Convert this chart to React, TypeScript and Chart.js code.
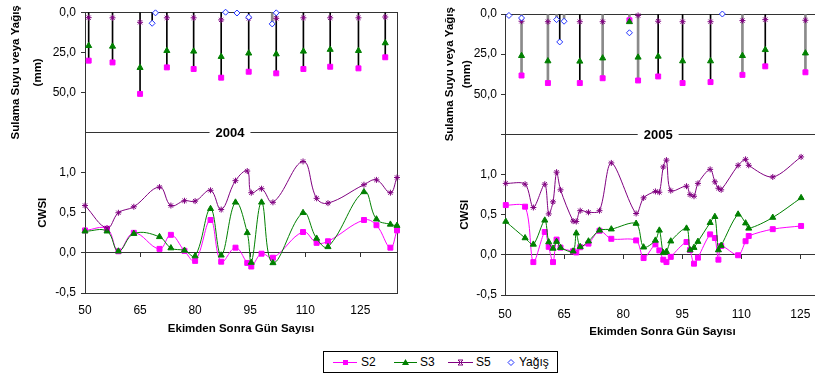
import React, { useEffect, useRef } from "react";
import { Chart, registerables } from "chart.js";

Chart.register(...registerables);

// ---------- series names ----------
const seriesNames = ["S2", "S3", "S5", "Yağış"];

// ---------- 2004 ----------
const irrDays2004 = [51, 57.5, 65, 72.3, 79.6, 87.1, 94.6, 102.1, 109.5, 116.8, 124.5, 131.8];
const irrS2_2004 = [30.2, 31.3, 50.9, 34.4, 35.4, 40.8, 37.1, 38.1, 35.4, 34.0, 35.0, 28.1];
const irrS3_2004 = [20.9, 21.3, 34.6, 24.0, 24.4, 27.7, 25.6, 26.1, 24.4, 23.3, 24.0, 19.2];
const irrS5_2004 = [3.4, 3.5, 6.3, 3.5, 3.5, 4.8, 3.8, 3.8, 3.5, 3.5, 3.5, 3.0];
const rainDays2004 = [68.3, 69.2, 88.3, 91.4, 94.6, 101.0, 102.1];
const rainMm2004 = [6.9, 0.4, 0.0, 0.5, 3.1, 7.3, 0.4];
const grayIrr2004: number[] = [];
const rainLineBlack2004 = [0];
const rainLineGray2004 = [5];

const cwsiDays2004 = [50, 56, 59.1, 63.3, 70.3, 73.4, 77.1, 80, 84.2, 87.1, 91, 94.2, 95.3, 98.1, 101.2, 109.4, 113.1, 116.2, 126, 129.4, 133.2, 135];
const cwsiS2_2004 = [0.28, 0.30, 0.02, 0.25, 0.05, 0.225, 0.025, -0.10, 0.41, -0.11, 0.065, -0.125, -0.17, -0.01, -0.06, 0.26, 0.125, 0.145, 0.41, 0.345, 0.065, 0.28];
const cwsiS3_2004 = [0.27, 0.27, 0.02, 0.24, 0.20, 0.06, 0.03, -0.04, 0.55, -0.03, 0.63, 0.25, -0.12, 0.63, -0.125, 0.50, 0.18, 0.075, 0.76, 0.42, 0.355, 0.34];
const cwsiS5_2004 = [0.59, 0.31, 0.50, 0.575, 0.82, 0.59, 0.65, 0.645, 0.78, 0.54, 0.90, 1.02, 0.75, 0.80, 0.63, 1.14, 0.68, 0.62, 0.85, 0.91, 0.75, 0.94];

// ---------- 2005 ----------
const irrDays2005 = [54.2, 60.9, 69.0, 74.8, 81.6, 83.8, 88.9, 95.1, 102.2, 110.3, 116.1, 126.3];
const irrS2_2005 = [38.3, 43.0, 43.0, 40.0, 3.9, 41.4, 38.9, 43.0, 42.4, 37.9, 32.6, 36.3];
const irrS3_2005 = [26.0, 29.3, 29.5, 27.5, 4.9, 27.0, 26.4, 29.3, 29.3, 26.0, 22.3, 24.4];
const irrS5_2005: (number | null)[] = [4.5, 4.8, 4.8, 4.8, null, 0.9, 4.5, 4.8, 4.8, 4.1, 3.5, 3.9];
const rainDays2005 = [51.0, 54.2, 63.1, 63.9, 65.0, 81.6, 105.2];
const rainMm2005 = [0.9, 2.5, 3.5, 17.4, 4.5, 11.7, 0.0];
const grayIrr2005 = [0, 1, 3, 4, 5, 9, 11];
const rainLineBlack2005 = [3];
const rainLineGray2005 = [2, 4];

const cwsiDays2005 = [50.2, 55.1, 57.2, 60.1, 61.1, 62.2, 63.1, 64.1, 67.3, 68.1, 69.1, 71.2, 74, 77, 83.3, 85.2, 88.2, 89.2, 90.2, 91, 92.1, 96.1, 97, 98, 99, 102.1, 103.3, 104.2, 104.9, 109.2, 111.1, 111.9, 118, 125.2];
const cwsiS2_2005 = [0.62, 0.60, -0.09, 0.285, 0.10, -0.09, 0.19, 0.09, 0.045, 0.03, 0.095, 0.14, 0.30, 0.20, 0.18, -0.04, 0.13, 0.055, -0.06, -0.09, -0.025, 0.16, 0.06, -0.11, -0.035, 0.255, 0.21, -0.06, 0.11, -0.005, 0.17, 0.235, 0.32, 0.36];
const cwsiS3_2005 = [0.415, 0.21, 0.13, 0.43, 0.16, 0.08, 0.165, 0.09, 0.045, 0.27, 0.10, 0.17, 0.305, 0.32, 0.39, 0.095, 0.18, 0.305, 0.025, 0.04, 0.17, 0.33, 0.06, 0.09, 0.165, 0.40, 0.475, 0.06, 0.115, 0.505, 0.395, 0.33, 0.465, 0.71];
const cwsiS5_2005 = [0.89, 0.88, 0.59, 0.88, 0.51, 0.66, 1.03, 0.81, 0.42, 0.415, 0.55, 0.53, 0.55, 1.145, 0.515, 0.71, 0.79, 0.78, 1.095, 1.18, 0.80, 0.855, 0.75, 0.73, 0.89, 1.065, 0.91, 0.83, 0.81, 1.115, 1.19, 1.115, 0.97, 1.22];

// ---------- axis tick values ----------
const xTickValues = [50, 65, 80, 95, 110, 125];
const topTickValues = [0, 25, 50, 75];
const botTickValues = [-0.5, 0, 0.5, 1.0, 1.5];

const FAM = '"Liberation Sans", Arial, Helvetica, sans-serif';
const DARK = "#333333";
const NONE = "rgba(0,0,0,0)";
const C_S2 = "#ff00ff";
const C_S3 = "#008000";
const C_S5 = "#800080";
const C_RAIN = "#2233ff";

type Panel = {
  year: string;
  irrDays: number[]; irrS2: number[]; irrS3: number[]; irrS5: (number | null)[];
  rainDays: number[]; rainMm: number[];
  grayIrr: number[]; rainBlack: number[]; rainGray: number[];
  cwsiDays: number[]; cwsiS2: number[]; cwsiS3: number[]; cwsiS5: number[];
  xMax: number; tension: number;
  yAxisW: number; xAxisH: number; padTop: number; padRight: number;
  yTickPad: number; xTickPad: number; xTitlePad: number;
  topTitleLH: string; topTitlePad: number; botTitlePad: number;
  rightBorder: boolean; yearAt: number; sepTick: boolean;
};

const P2004: Panel = {
  year: "2004",
  irrDays: irrDays2004, irrS2: irrS2_2004, irrS3: irrS3_2004, irrS5: irrS5_2004,
  rainDays: rainDays2004, rainMm: rainMm2004,
  grayIrr: grayIrr2004, rainBlack: rainLineBlack2004, rainGray: rainLineGray2004,
  cwsiDays: cwsiDays2004, cwsiS2: cwsiS2_2004, cwsiS3: cwsiS3_2004, cwsiS5: cwsiS5_2004,
  xMax: 135, tension: 0.4,
  yAxisW: 85, xAxisH: 47, padTop: 12, padRight: 13,
  yTickPad: 5, xTickPad: 10, xTitlePad: 4,
  topTitleLH: "22px", topTitlePad: 5, botTitlePad: 36,
  rightBorder: true, yearAt: 89.5, sepTick: false,
};

const P2005: Panel = {
  year: "2005",
  irrDays: irrDays2005, irrS2: irrS2_2005, irrS3: irrS3_2005, irrS5: irrS5_2005,
  rainDays: rainDays2005, rainMm: rainMm2005,
  grayIrr: grayIrr2005, rainBlack: rainLineBlack2005, rainGray: rainLineGray2005,
  cwsiDays: cwsiDays2005, cwsiS2: cwsiS2_2005, cwsiS3: cwsiS3_2005, cwsiS5: cwsiS5_2005,
  xMax: 130, tension: 0.3,
  yAxisW: 95, xAxisH: 45, padTop: 14, padRight: 3.5,
  yTickPad: 4, xTickPad: 12, xTitlePad: 1,
  topTitleLH: "17px", topTitlePad: 31, botTitlePad: 48,
  rightBorder: false, yearAt: 88.9, sepTick: true,
};

const fmt = (v: number) => (Math.abs(v) < 1e-9 ? 0 : v).toFixed(1).replace(".", ",");
const near = (a: number, b: number) => Math.abs(a - b) < 1e-6;

function pts(xs: number[], ys: (number | null)[]) {
  const out: { x: number; y: number }[] = [];
  xs.forEach((x, i) => {
    const y = ys[i];
    if (y !== null && y !== undefined) out.push({ x, y });
  });
  return out;
}

function buildConfig(p: Panel): any {
  const black: any[] = [];
  const gray: any[] = [];
  p.irrDays.forEach((d, i) => {
    const depth = Math.max(p.irrS2[i], p.irrS3[i]);
    (p.grayIrr.includes(i) ? gray : black).push({ x: d, y: [0, depth] });
  });
  p.rainBlack.forEach((i) => black.push({ x: p.rainDays[i], y: [0, p.rainMm[i]] }));
  p.rainGray.forEach((i) => gray.push({ x: p.rainDays[i], y: [0, p.rainMm[i]] }));

  const marker = (label: string, data: any[], style: string, color: string, r: number, fill: string) => ({
    type: "line", label, data, yAxisID: "yTop", xAxisID: "x", showLine: false,
    pointStyle: style, pointRadius: r, pointBorderWidth: 1,
    pointBackgroundColor: fill, pointBorderColor: color, borderColor: color, backgroundColor: fill,
    clip: false, order: 1,
  });
  const curve = (label: string, data: any[], style: string, color: string, r: number) => ({
    type: "line", label, data, yAxisID: "yBot", xAxisID: "x",
    borderColor: color, backgroundColor: color, borderWidth: 1, tension: p.tension,
    pointStyle: style, pointRadius: r, pointBorderWidth: 1,
    pointBackgroundColor: color, pointBorderColor: color, fill: false, clip: false, order: 2,
  });

  const decor = {
    id: "decor",
    beforeDatasetsDraw(chart: any) {
      const { ctx } = chart;
      const x = chart.scales.x;
      const y0 = chart.scales.yBot.getPixelForValue(0);
      ctx.save();
      ctx.strokeStyle = DARK;
      ctx.lineWidth = 1;
      x.ticks.forEach((t: any) => {
        const px = Math.round(x.getPixelForValue(t.value)) + 0.5;
        ctx.beginPath();
        ctx.moveTo(px, Math.round(y0));
        ctx.lineTo(px, Math.round(y0) + 4);
        ctx.stroke();
      });
      ctx.restore();
    },
    afterDraw(chart: any) {
      const { ctx } = chart;
      const y = chart.scales.yBot.getPixelForValue(1.5);
      const px = chart.scales.x.getPixelForValue(p.yearAt);
      ctx.save();
      ctx.font = `bold 13px ${FAM}`;
      const w = ctx.measureText(p.year).width;
      ctx.fillStyle = "#ffffff";
      ctx.fillRect(px - w / 2 - 6, y - 7, w + 12, 14);
      ctx.fillStyle = "#000000";
      ctx.textAlign = "center";
      ctx.textBaseline = "middle";
      ctx.fillText(p.year, px, y + 1);
      ctx.restore();
    },
  };

  const tickFont = { family: FAM, size: 12 };
  const titleFont = { family: FAM, size: 11.5, weight: "bold" as const };

  const scales: any = {
    x: {
      type: "linear", min: 50, max: p.xMax, offset: false,
      grid: { display: false, drawTicks: false, offset: false },
      border: { display: true, color: DARK, width: 1 },
      afterBuildTicks: (s: any) => { s.ticks = xTickValues.map((v) => ({ value: v })); },
      ticks: {
        autoSkip: false, maxRotation: 0,
        padding: p.xTickPad, color: "#000", font: tickFont, callback: (v: number) => String(v),
      },
      title: { display: true, text: "Ekimden Sonra Gün Sayısı", color: "#000", font: titleFont, padding: { top: 0, bottom: p.xTitlePad } },
      afterFit: (s: any) => { s.height = p.xAxisH; },
    },
    yBot: {
      type: "linear", position: "left", stack: "panel", stackWeight: 4, min: -0.5, max: 1.5, offset: false,
      afterBuildTicks: (s: any) => { s.ticks = botTickValues.map((v) => ({ value: v })); },
      ticks: { padding: p.yTickPad, color: "#000", font: tickFont, callback: (v: number) => (v > 1.4 ? "" : fmt(v)) },
      grid: {
        color: (c: any) => (c.tick && (near(c.tick.value, 0) || near(c.tick.value, 1.5)) ? DARK : NONE),
        tickColor: (c: any) => (c.tick && near(c.tick.value, 1.5) ? (p.sepTick ? DARK : NONE) : DARK),
        tickLength: 4, lineWidth: 1,
      },
      border: { color: DARK, width: 1 },
      title: { display: true, text: "CWSI", color: "#000", font: titleFont, padding: { top: p.botTitlePad, bottom: 0 } },
      afterFit: (s: any) => { s.width = p.yAxisW; },
    },
    yTop: {
      type: "linear", position: "left", stack: "panel", stackWeight: 3, min: 0, max: 75, reverse: true, offset: false,
      afterBuildTicks: (s: any) => { s.ticks = topTickValues.map((v) => ({ value: v })); },
      ticks: { padding: p.yTickPad, color: "#000", font: tickFont, callback: (v: number) => (v > 70 ? "" : fmt(v)) },
      grid: {
        color: (c: any) => (c.tick && near(c.tick.value, 0) ? DARK : NONE),
        tickColor: (c: any) => (c.tick && c.tick.value > 70 ? NONE : DARK),
        tickLength: 4, lineWidth: 1,
      },
      border: { color: DARK, width: 1 },
      title: {
        display: true, text: ["Sulama Suyu veya Yağış", "(mm)"], color: "#000",
        font: { ...titleFont, lineHeight: p.topTitleLH }, padding: { top: p.topTitlePad, bottom: 0 },
      },
      afterFit: (s: any) => { s.width = p.yAxisW; },
    },
  };
  if (p.rightBorder) {
    scales.yR = {
      type: "linear", position: "right", min: 0, max: 1,
      ticks: { display: false }, grid: { display: false, drawTicks: false },
      border: { display: true, color: DARK, width: 1 },
      afterFit: (s: any) => { s.width = 0; },
    };
  }

  return {
    type: "line",
    data: {
      datasets: [
        marker(seriesNames[3], pts(p.rainDays, p.rainMm), "rectRot", C_RAIN, 3, "#ffffff"),
        marker(seriesNames[2], pts(p.irrDays, p.irrS5), "star", C_S5, 3, C_S5),
        marker(seriesNames[1], pts(p.irrDays, p.irrS3), "triangle", C_S3, 3.5, C_S3),
        marker(seriesNames[0], pts(p.irrDays, p.irrS2), "rect", C_S2, 3.5, C_S2),
        curve(seriesNames[2], pts(p.cwsiDays, p.cwsiS5), "star", C_S5, 3),
        curve(seriesNames[1], pts(p.cwsiDays, p.cwsiS3), "triangle", C_S3, 3.5),
        curve(seriesNames[0], pts(p.cwsiDays, p.cwsiS2), "rect", C_S2, 3.5),
        {
          type: "bar", label: "drop-black", data: black, yAxisID: "yTop", xAxisID: "x",
          backgroundColor: "#000000", barThickness: 1, grouped: false, order: 5,
        },
        {
          type: "bar", label: "drop-gray", data: gray, yAxisID: "yTop", xAxisID: "x",
          backgroundColor: "#8a8a8a", barThickness: 2, grouped: false, order: 5,
        },
      ],
    },
    options: {
      responsive: false,
      animation: false,
      devicePixelRatio: 1,
      layout: { padding: { left: 0, right: p.padRight, top: p.padTop, bottom: 0 } },
      plugins: { legend: { display: false }, tooltip: { enabled: false } },
      scales,
    },
    plugins: [decor],
  };
}

function PanelChart({ panel, left, width }: { panel: Panel; left: number; width: number }) {
  const ref = useRef<HTMLCanvasElement>(null);
  useEffect(() => {
    const chart = new Chart(ref.current as HTMLCanvasElement, buildConfig(panel));
    return () => chart.destroy();
  }, [panel]);
  return (
    <canvas
      ref={ref}
      width={width}
      height={340}
      style={{ position: "absolute", left, top: 0, width, height: 340 }}
    />
  );
}

function Legend() {
  const txt: React.CSSProperties = {
    position: "absolute", top: 3, fontFamily: FAM, fontSize: 12, lineHeight: "14px", color: "#000",
  };
  return (
    <div
      style={{
        position: "absolute", left: 323, top: 351, width: 233, height: 20,
        border: "1px solid #000", background: "#fff",
      }}
    >
      <svg width={233} height={20} style={{ position: "absolute", left: 0, top: 0 }}>
        <line x1={9} y1={10.5} x2={33} y2={10.5} stroke={C_S2} strokeWidth={1} />
        <rect x={19} y={8} width={5} height={5} fill={C_S2} />
        <line x1={70} y1={10.5} x2={93} y2={10.5} stroke={C_S3} strokeWidth={1} />
        <polygon points="81.5,7 85,13 78,13" fill={C_S3} />
        <line x1={124} y1={10.5} x2={149} y2={10.5} stroke={C_S5} strokeWidth={1} />
        <path d="M134,8 L139,13 M139,8 L134,13 M134,8 L139,8 M134,13 L139,13" stroke={C_S5} strokeWidth={1} fill="none" />
        <polygon points="187,7.5 190,10.5 187,13.5 184,10.5" fill="#fff" stroke={C_RAIN} strokeWidth={1} />
      </svg>
      <span style={{ ...txt, left: 37 }}>{seriesNames[0]}</span>
      <span style={{ ...txt, left: 96 }}>{seriesNames[1]}</span>
      <span style={{ ...txt, left: 152 }}>{seriesNames[2]}</span>
      <span style={{ ...txt, left: 195 }}>{seriesNames[3]}</span>
    </div>
  );
}

export default function App() {
  return (
    <div
      style={{
        position: "absolute", left: 0, top: 0, width: 815, height: 374,
        overflow: "hidden", background: "#ffffff",
      }}
    >
      <PanelChart panel={P2004} left={0} width={410} />
      <PanelChart panel={P2005} left={410} width={415} />
      <Legend />
    </div>
  );
}
